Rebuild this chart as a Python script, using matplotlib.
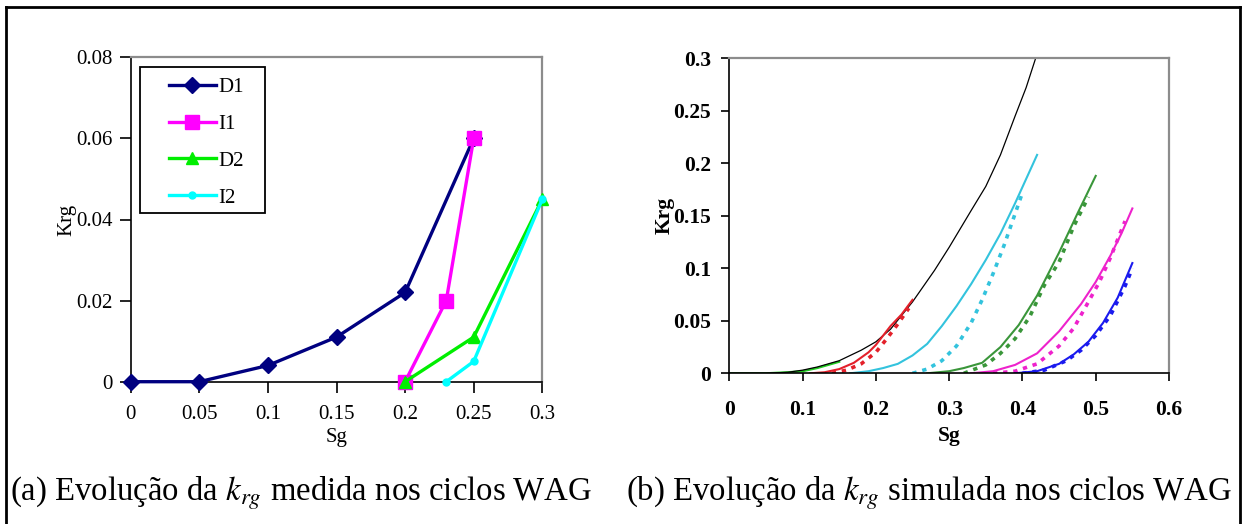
import numpy as np
import matplotlib
matplotlib.use('Agg')
import matplotlib.pyplot as plt
from matplotlib.lines import Line2D
from matplotlib.patches import Rectangle

plt.rcParams['font.family'] = ['Liberation Serif', 'DejaVu Serif']
plt.rcParams['mathtext.fontset'] = 'stix'

# ---- (a) medido ----
sg_d1 = [0, 0.05, 0.10, 0.15, 0.20, 0.25]
krg_d1 = [0, 0, 0.004, 0.011, 0.022, 0.060]
sg_i1 = [0.20, 0.23, 0.25]
krg_i1 = [0, 0.020, 0.060]
sg_d2 = [0.20, 0.25, 0.30]
krg_d2 = [0, 0.011, 0.045]
sg_i2 = [0.23, 0.25, 0.30]
krg_i2 = [0, 0.005, 0.045]

# ---- (b) simulado ----
sg_black = [0, 0.05, 0.08, 0.10, 0.12, 0.15, 0.18, 0.20, 0.22, 0.25, 0.28, 0.30, 0.33, 0.35, 0.37, 0.39, 0.405, 0.418]
krg_black = [0, 0, 0.001, 0.003, 0.006, 0.012, 0.022, 0.030, 0.042, 0.068, 0.098, 0.120, 0.155, 0.178, 0.208, 0.245, 0.272, 0.300]
sg_lgreen = [0, 0.05, 0.08, 0.10, 0.12, 0.14, 0.15]
krg_lgreen = [0, 0, 0.001, 0.002, 0.005, 0.009, 0.011]
sg_red = [0.11, 0.13, 0.15, 0.17, 0.19, 0.20, 0.21, 0.22, 0.235, 0.25]
krg_red = [0, 0.001, 0.004, 0.010, 0.020, 0.027, 0.036, 0.045, 0.056, 0.070]
sg_red_d = [0.14, 0.16, 0.18, 0.20, 0.215, 0.23, 0.245]
krg_red_d = [0, 0.003, 0.009, 0.020, 0.033, 0.047, 0.062]
sg_cyan = [0.165, 0.19, 0.21, 0.23, 0.25, 0.27, 0.29, 0.31, 0.33, 0.35, 0.37, 0.39, 0.405, 0.42]
krg_cyan = [0, 0.002, 0.005, 0.009, 0.017, 0.028, 0.045, 0.064, 0.085, 0.108, 0.133, 0.162, 0.185, 0.208]
sg_cyan_d = [0.25, 0.27, 0.29, 0.31, 0.33, 0.345, 0.36, 0.375, 0.39, 0.40]
krg_cyan_d = [0, 0.004, 0.012, 0.026, 0.048, 0.070, 0.095, 0.122, 0.152, 0.172]
sg_dgreen = [0.27, 0.30, 0.32, 0.345, 0.37, 0.395, 0.42, 0.45, 0.475, 0.50]
krg_dgreen = [0, 0.002, 0.005, 0.010, 0.025, 0.046, 0.074, 0.115, 0.152, 0.188]
sg_dgreen_d = [0.32, 0.35, 0.37, 0.39, 0.41, 0.43, 0.45, 0.47, 0.49]
krg_dgreen_d = [0, 0.008, 0.019, 0.033, 0.054, 0.084, 0.106, 0.140, 0.168]
sg_mag = [0.33, 0.36, 0.39, 0.42, 0.45, 0.48, 0.50, 0.52, 0.535, 0.55]
krg_mag = [0, 0.002, 0.008, 0.019, 0.040, 0.066, 0.087, 0.112, 0.133, 0.157]
sg_mag_d = [0.36, 0.39, 0.42, 0.45, 0.47, 0.49, 0.505, 0.52, 0.54]
krg_mag_d = [0, 0.002, 0.009, 0.026, 0.043, 0.068, 0.087, 0.110, 0.145]
sg_blue = [0.39, 0.42, 0.45, 0.47, 0.49, 0.51, 0.53, 0.55]
krg_blue = [0, 0.002, 0.009, 0.018, 0.030, 0.048, 0.072, 0.105]
sg_blue_d = [0.40, 0.43, 0.46, 0.48, 0.50, 0.52, 0.54, 0.55]
krg_blue_d = [0, 0.003, 0.012, 0.022, 0.036, 0.055, 0.083, 0.100]

W, H = 1245, 524
fig = plt.figure(figsize=(W / 100, H / 100), dpi=100)

def px_rect(x0, y0, x1, y1):
    return [x0 / W, 1 - y1 / H, (x1 - x0) / W, (y1 - y0) / H]

def style_axes(ax, bold, tick_len, xpad, ypad, size):
    for s in ['top', 'right']:
        ax.spines[s].set_color('#8c8c8c')
        ax.spines[s].set_linewidth(1.6)
    for s in ['left', 'bottom']:
        ax.spines[s].set_color('black')
        ax.spines[s].set_linewidth(1.2)
    ax.tick_params(axis='both', direction='out', length=tick_len, width=1.2,
                   labelsize=size, top=False, right=False)
    ax.tick_params(axis='x', pad=xpad)
    ax.tick_params(axis='y', pad=ypad)
    if bold:
        for lab in ax.get_xticklabels() + ax.get_yticklabels():
            lab.set_fontweight('bold')

# ---------- panel (a) ----------
ax1 = fig.add_axes(px_rect(130.7, 57.3, 542.3, 381.7))
ax1.plot(sg_d1, krg_d1, color='#000080', lw=2.4, marker='D', ms=8, clip_on=False, zorder=3)
ax1.plot(sg_i1, krg_i1, color='#ff00ff', lw=2.4, marker='s', ms=10, clip_on=False, zorder=4)
ax1.plot(sg_d2, krg_d2, color='#00ee00', lw=2.4, marker='^', ms=8, clip_on=False, zorder=5)
ax1.plot(sg_i2, krg_i2, color='#00ffff', lw=2.4, marker='o', ms=5, clip_on=False, zorder=6)
ax1.set_xlim(0, 0.3)
ax1.set_ylim(0, 0.08)
ax1.set_xticks([0, 0.05, 0.1, 0.15, 0.2, 0.25, 0.3])
ax1.set_xticklabels(['0', '0.05', '0.1', '0.15', '0.2', '0.25', '0.3'])
ax1.set_yticks([0, 0.02, 0.04, 0.06, 0.08])
ax1.set_yticklabels(['0', '0.02', '0.04', '0.06', '0.08'])
style_axes(ax1, False, 8, 8.5, 5, 15)
ax1.set_xlabel('Sg', fontsize=15, labelpad=3)
ax1.set_ylabel('Krg', fontsize=15, labelpad=-0.5)

handles = [
    Line2D([0], [0], color='#000080', lw=2.4, marker='D', ms=8),
    Line2D([0], [0], color='#ff00ff', lw=2.4, marker='s', ms=10),
    Line2D([0], [0], color='#00ee00', lw=2.4, marker='^', ms=8),
    Line2D([0], [0], color='#00ffff', lw=2.4, marker='o', ms=5),
]
leg = ax1.legend(handles, ['D1', 'I1', 'D2', 'I2'], loc='upper left',
                 bbox_to_anchor=((168.7 - 130.7) / 411.6, 0.938), borderaxespad=0,
                 frameon=False, fontsize=15, handlelength=2.25, handletextpad=0.15,
                 labelspacing=0.83, borderpad=0)
ax1.add_patch(Rectangle((0.022, 0.521), 0.304, 0.45, transform=ax1.transAxes,
                        fill=False, edgecolor='black', lw=1.3, zorder=10))

# ---------- panel (b) ----------
ax2 = fig.add_axes(px_rect(729.3, 58.3, 1169, 373.3))
ax2.plot(sg_lgreen, krg_lgreen, color='#22cc22', lw=1.6)
ax2.plot(sg_black, krg_black, color='black', lw=0.9)
ax2.plot(sg_red, krg_red, color='#e3202a', lw=1.5)
ax2.plot(sg_red_d, krg_red_d, color='#e3202a', lw=2.6, ls=(0, (1.2, 1.6)))
ax2.plot(sg_cyan, krg_cyan, color='#33c3dd', lw=1.5)
ax2.plot(sg_cyan_d, krg_cyan_d, color='#33c3dd', lw=2.6, ls=(0, (1.2, 1.6)))
ax2.plot(sg_dgreen, krg_dgreen, color='#3a963a', lw=1.5)
ax2.plot(sg_dgreen_d, krg_dgreen_d, color='#3a963a', lw=2.6, ls=(0, (1.2, 1.6)))
ax2.plot(sg_mag, krg_mag, color='#ee22cc', lw=1.5)
ax2.plot(sg_mag_d, krg_mag_d, color='#ee22cc', lw=2.6, ls=(0, (1.2, 1.6)))
ax2.plot(sg_blue, krg_blue, color='#1a1aee', lw=1.5)
ax2.plot(sg_blue_d, krg_blue_d, color='#1a1aee', lw=2.6, ls=(0, (1.2, 1.6)))
ax2.set_xlim(0, 0.6)
ax2.set_ylim(0, 0.3)
ax2.set_xticks([0, 0.1, 0.2, 0.3, 0.4, 0.5, 0.6])
ax2.set_xticklabels(['0', '0.1', '0.2', '0.3', '0.4', '0.5', '0.6'])
ax2.set_yticks([0, 0.05, 0.1, 0.15, 0.2, 0.25, 0.3])
ax2.set_yticklabels(['0', '0.05', '0.1', '0.15', '0.2', '0.25', '0.3'])
style_axes(ax2, True, 6, 13.5, 7, 15.5)
ax2.set_xlabel('Sg', fontsize=15.5, fontweight='bold', labelpad=4)
ax2.set_ylabel('Krg', fontsize=15.5, fontweight='bold', labelpad=-1.3)

# ---------- moldura e legendas ----------
for (xa, ya, xb, yb) in [(6, 7, 1240, 7), (6, 7, 6, 530), (1240, 7, 1240, 530)]:
    fig.add_artist(Line2D([xa / W, xb / W], [1 - ya / H, 1 - yb / H],
                          color='black', lw=2))

fig.text(10 / W, 1 - 500 / H, '(a) Evolução da $k_{rg}$ medida nos ciclos WAG',
         fontsize=23.6, va='baseline', ha='left')
fig.text(626 / W, 1 - 500 / H, '(b) Evolução da $k_{rg}$ simulada nos ciclos WAG',
         fontsize=23.6, va='baseline', ha='left')

fig.savefig('out.png', dpi=100)
